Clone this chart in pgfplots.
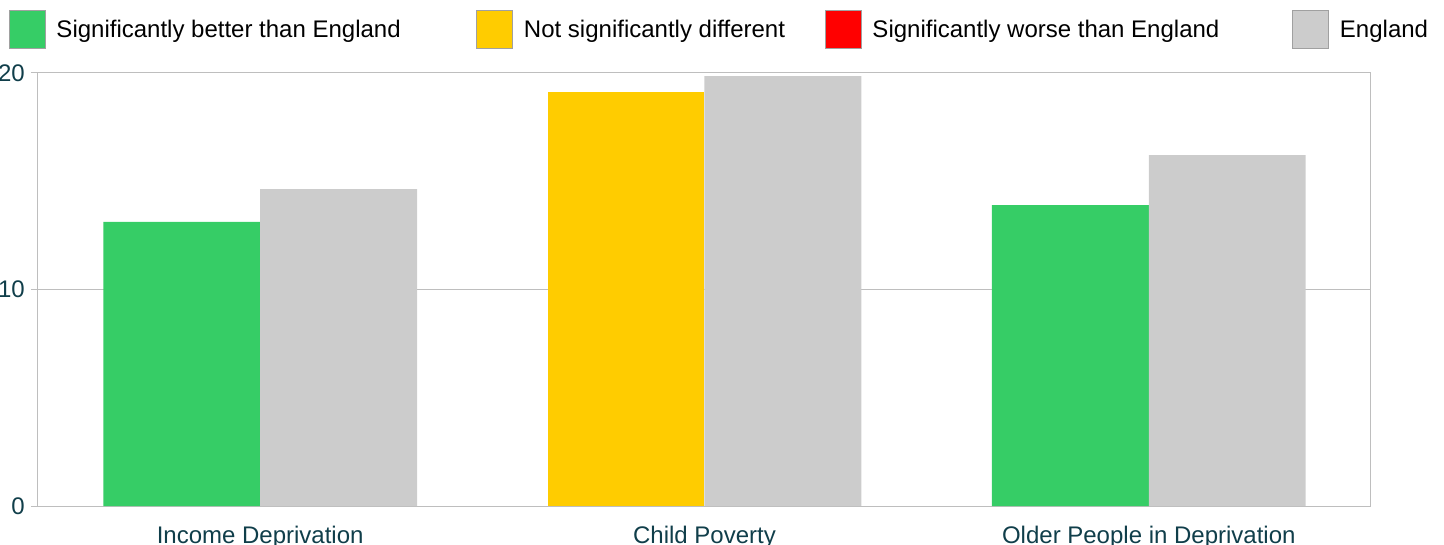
\documentclass[border=0pt]{standalone}
\usepackage{pgfplots}
\pgfplotsset{compat=1.18}
\usepackage{fontspec}
\setmainfont{Liberation Sans}
\definecolor{cgreen}{RGB}{54,205,102}
\definecolor{cyellow}{RGB}{255,204,0}
\definecolor{cred}{RGB}{255,0,0}
\definecolor{cgray}{RGB}{204,204,204}
\definecolor{lborder}{RGB}{160,160,160}
\definecolor{axgray}{RGB}{190,190,190}
\definecolor{ticktext}{RGB}{16,62,74}
\begin{document}
\begin{tikzpicture}
\begin{axis}[
  at={(38pt,-506pt)}, anchor=south west,
  scale only axis, width=1333pt, height=433pt,
  xmin=-0.5, xmax=2.5, ymin=0, ymax=20,
  xtick={0,1,2},
  xticklabels={Income Deprivation, Child Poverty, Older People in Deprivation},
  ytick={0,10,20},
  ytick pos=left,
  ymajorgrids,
  grid style={draw=axgray, line width=1pt},
  axis line style={draw=axgray, line width=1pt},
  tick align=outside,
  major tick length=7pt,
  xtick style={draw=none},
  ytick style={draw=axgray, line width=1pt},
  /pgf/number format/assume math mode=true,
  tick label style={font=\fontsize{24}{28}\selectfont, text=ticktext},
  yticklabel style={anchor=east, inner sep=0pt, xshift=-6pt},
  xticklabel style={anchor=base, inner sep=0pt, yshift=-30pt},
  legend image code/.code={\draw[#1, draw=lborder, line width=1pt] (0pt,-19pt) rectangle (36pt,19pt); \path[draw=none, fill=none] (36pt,0pt) rectangle (47pt,0.1pt);},
  legend cell align=left,
  legend columns=4,
  legend style={at={(-0.02176,1.1455)}, anchor=north west, draw=none, fill=none,
    inner sep=0pt, outer sep=0pt, column sep=0pt,
    font=\fontsize{24}{28}\selectfont,
    nodes={inner sep=0pt}},
]
\addplot[ybar, bar width=0.353, bar shift=-0.1765, fill=cgreen, draw=none, forget plot]
  coordinates {(0,13.12) (2,13.90)};
\addplot[ybar, bar width=0.353, bar shift=-0.1765, fill=cyellow, draw=none, forget plot]
  coordinates {(1,19.12)};
\addplot[ybar, bar width=0.353, bar shift=0.1765, fill=cgray, draw=none, forget plot]
  coordinates {(0,14.64) (1,19.86) (2,16.21)};
\addlegendimage{fill=cgreen}
\addlegendentry{\makebox[420pt][l]{Significantly better than England}}
\addlegendimage{fill=cyellow}
\addlegendentry{\makebox[301pt][l]{Not significantly different}}
\addlegendimage{fill=cred}
\addlegendentry{\makebox[420pt][l]{Significantly worse than England}}
\addlegendimage{fill=cgray}
\addlegendentry{England}
\end{axis}
\pgfresetboundingbox
\useasboundingbox (0pt,0pt) rectangle (1444pt,-545pt);
\end{tikzpicture}
\end{document}
